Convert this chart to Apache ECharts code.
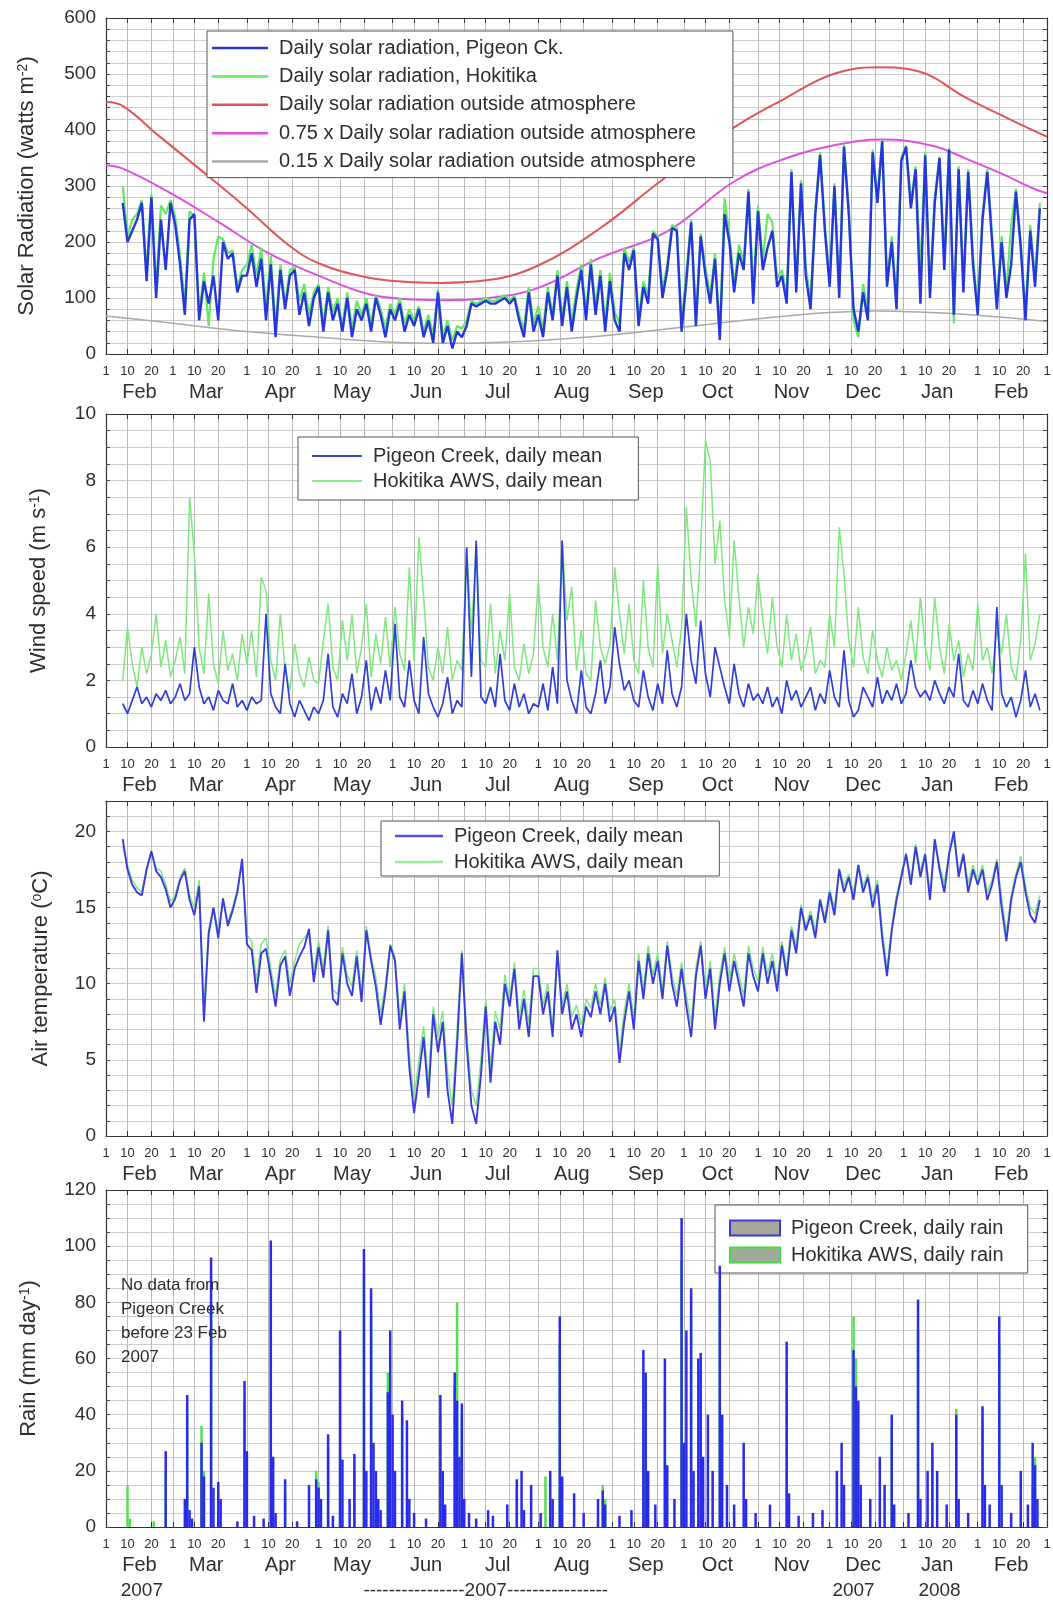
<!DOCTYPE html>
<html><head><meta charset="utf-8">
<script src="https://cdn.jsdelivr.net/npm/echarts@6/dist/echarts.min.js"></script>
<style>html,body{margin:0;padding:0;background:#fff}#c{width:1053px;height:1603px}</style>
</head><body><div id="c"></div>
<script>
const FONT = '"Liberation Sans", Arial, Helvetica, sans-serif';
const TXT = '#2e2e2e';

// ---- axis structure (day 0 = 1 Feb 2007, axis ends 1 Mar 2008) ----
const monthNames = ['Feb','Mar','Apr','May','Jun','Jul','Aug','Sep','Oct','Nov','Dec','Jan','Feb'];
const monthStartDays = [0,28,59,89,120,150,181,212,242,273,303,334,365];
const axisEndDay = 394;
const dayOfMonthOffsets = [0,9,19];
const dayOfMonthLabels = ['1','10','20'];
const yearLabelDays = [15,159,313,349];
const yearLabelTexts = ['2007','----------------2007----------------','2007','2008'];
// first sampled day in each month (values every 2nd day)
const sampleFirstDays = [7,29,59,89,121,151,181,213,243,273,303,335,365];

// ---- Solar radiation (W m-2), every 2nd day, one row per month ----
const solarPigeon = [
 [270,200,220,240,270,130,280,100,240,150,270],
 [230,160,70,240,250,60,130,90,140,60,200,170,180,110,140],
 [140,180,120,170,60,160,30,150,80,140,150,70,110,50,100],
 [120,40,110,60,90,40,100,30,80,60,90,40,100,70,30,80],
 [60,90,40,70,50,80,30,60,20,110,20,50,10,40,30],
 [50,90,85,90,95,90,90,95,100,90,100,60,30,110,40],
 [70,30,110,60,140,50,120,40,100,150,60,160,70,140,40,130],
 [60,40,180,150,185,50,120,90,215,205,100,150,225,220,40],
 [130,235,50,210,140,90,170,25,250,200,110,180,150,290,90],
 [255,150,190,220,120,140,90,325,110,305,140,80,250,355,220],
 [120,300,100,370,250,80,40,110,60,360,270,380,120,200,80,345],
 [370,260,330,90,355,100,270,350,150,365,70,330,110,325,160],
 [70,240,325,200,80,200,100,160,290,190,60,220,120,260]
];
const solarHokitika = [
 [300,210,240,250,275,150,285,120,265,250,275],
 [245,175,90,255,245,70,145,50,170,210,205,180,185,120,150],
 [160,195,140,190,80,175,50,160,90,150,155,95,125,70,110],
 [125,55,120,75,100,50,110,45,95,70,100,55,105,80,45,90],
 [70,100,55,80,60,85,40,70,35,115,30,60,25,50,45],
 [60,95,90,95,100,95,95,100,105,95,105,70,45,120,55],
 [85,45,120,70,150,65,130,55,115,160,75,170,85,150,55,145],
 [75,55,190,165,190,65,130,105,220,210,115,160,230,225,55],
 [145,240,65,215,155,105,180,40,278,215,125,195,165,295,110],
 [265,165,250,235,135,150,105,330,125,310,155,95,260,360,230],
 [135,305,115,375,260,60,30,125,75,365,280,382,130,210,95,350],
 [372,270,335,150,360,115,280,352,165,368,55,335,125,330,175],
 [85,250,330,215,95,210,115,230,295,200,75,230,135,270]
];
// Daily solar radiation outside atmosphere and its 0.75 / 0.15 fractions, [day, W m-2]
const extraterrestrial = [[0,450],[7,443],[22,390],[39,331],[59,260],[76,196],[89,162],[109,137],[125,129],[140,127],[160,132],[181,158],[207,225],[232,308],[262,402],[285,458],[304,499],[323,512],[340,505],[360,458],[378,420],[394,388]];
const extraterrestrial075 = [[0,337],[7,331],[25,292],[47,236],[68,180],[89,140],[109,108],[125,98],[140,96],[160,100],[181,118],[207,172],[235,219],[263,308],[285,350],[304,372],[325,383],[346,372],[360,349],[375,322],[388,296],[394,287]];
const extraterrestrial015 = [[0,68],[28,55],[59,40],[89,30],[120,21],[140,19],[160,20],[181,24],[212,34],[242,48],[273,63],[303,74],[323,77],[345,74],[365,69],[394,58]];

// ---- Wind speed (m s-1), every 2nd day ----
const windPigeon = [
 [1.3,1.0,1.4,1.8,1.3,1.5,1.2,1.6,1.4,1.7,1.3],
 [1.5,1.9,1.4,1.6,3.0,1.8,1.3,1.5,1.1,1.7,1.4,1.3,1.9,1.2,1.4],
 [1.1,1.5,1.3,1.4,4.0,1.6,1.2,1.0,2.5,1.3,0.9,1.4,1.1,0.8,1.2],
 [1.0,1.4,2.8,1.2,0.9,1.6,1.3,2.2,1.0,1.5,2.6,1.1,1.8,1.3,2.3,1.4],
 [3.7,1.5,1.2,2.6,1.4,1.0,3.3,1.6,1.2,0.9,1.3,2.1,1.0,1.4,1.2],
 [6.0,2.1,6.2,1.5,1.3,1.8,1.2,2.8,1.4,1.1,1.9,1.2,1.6,1.0,1.3],
 [1.2,1.9,1.1,2.4,1.3,6.2,2.0,1.4,1.0,2.3,1.2,1.0,1.6,2.6,1.3,1.8],
 [3.6,2.5,1.7,2.0,1.4,1.2,2.3,1.5,1.1,1.9,1.3,2.9,1.6,1.2,1.8],
 [4.0,2.6,1.9,3.8,2.2,1.5,3.0,2.4,1.8,1.3,2.5,1.6,1.2,1.9,1.4],
 [1.6,1.3,1.8,1.2,1.5,1.0,2.0,1.4,1.7,1.2,1.5,1.8,1.1,1.6,1.3],
 [2.3,1.5,1.2,2.9,1.4,0.9,1.1,1.8,1.5,1.2,2.1,1.3,1.7,1.4,1.9,1.3],
 [1.6,2.6,1.8,1.5,1.7,1.4,2.0,1.6,1.3,1.8,1.5,2.8,1.4,1.2,1.7],
 [1.3,1.9,1.4,1.1,4.2,1.6,1.2,1.5,0.9,1.4,2.3,1.2,1.6,1.1]
];
const windHokitika = [
 [2.0,3.6,2.5,1.8,3.0,2.2,2.8,4.0,2.4,3.2,2.1],
 [2.6,3.3,2.2,7.5,5.8,3.0,2.2,4.6,2.5,1.9,3.5,2.3,2.8,2.0,3.4],
 [2.5,3.5,2.1,5.1,4.7,2.6,2.0,4.0,2.3,1.7,3.1,2.2,1.8,2.7,2.0],
 [1.9,3.2,4.3,2.4,2.0,3.8,2.6,4.0,2.2,3.0,4.3,2.1,3.4,2.5,3.9,2.4],
 [4.2,2.8,2.3,5.4,2.6,6.3,4.5,2.4,2.0,3.0,2.2,3.6,2.0,2.6,2.3],
 [6.0,3.4,6.1,2.6,2.4,4.3,2.2,3.5,2.6,4.6,2.4,2.0,3.1,2.2,2.8],
 [5.0,3.0,2.4,4.0,2.6,6.2,3.8,4.8,2.3,3.5,2.2,2.0,4.4,3.0,2.5,3.1],
 [5.4,4.0,2.8,4.3,2.6,2.2,5.0,3.0,2.4,5.5,2.8,4.0,3.2,2.4,3.6],
 [7.2,5.0,3.6,6.0,9.2,8.6,5.5,6.8,4.4,3.3,6.2,4.5,3.0,4.2,3.4],
 [5.2,3.8,2.8,4.5,3.0,2.4,4.0,2.6,3.4,2.3,2.8,3.6,2.2,2.6,2.4],
 [4.0,3.0,6.6,5.2,3.2,2.4,4.2,2.7,2.2,3.5,2.6,2.1,3.0,2.3,2.6,2.0],
 [2.8,3.8,2.5,4.5,3.0,2.3,4.5,3.0,2.2,3.7,2.6,3.2,2.1,2.8,2.3],
 [4.3,2.6,3.0,2.2,3.5,2.8,4.0,2.4,2.0,3.2,5.8,2.6,3.1,4.0]
];

// ---- Air temperature (deg C), every 2nd day ----
const tempPigeon = [
 [19.5,17.5,16.5,16.0,15.8,17.5,18.7,17.4,17.0,16.2,15.0],
 [15.6,16.8,17.4,15.5,14.5,16.4,7.5,13.3,15.0,13.0,15.6,13.8,14.8,16.0,18.2],
 [12.6,12.2,9.4,12.0,12.3,10.5,8.5,11.2,11.8,9.2,11.0,11.8,12.4,13.6,10.1],
 [12.4,10.4,13.5,9.0,8.6,12.0,10.0,9.2,11.8,8.8,13.5,11.5,9.8,7.3,9.5,12.5],
 [11.5,7.0,9.5,4.5,1.5,4.0,6.5,2.5,8.0,5.5,7.5,3.0,0.8,6.0,12.0],
 [6.0,2.0,0.8,4.0,8.5,3.5,7.5,6.0,10.0,8.5,11.0,7.0,9.0,6.5,10.5],
 [10.5,8.0,9.5,6.5,12.2,8.0,9.5,7.0,8.0,6.5,8.5,7.8,9.5,8.0,10.0,7.5],
 [8.5,4.8,7.5,9.5,7.0,11.5,9.0,12.0,10.0,11.5,9.0,12.5,10.0,8.5,11.0],
 [8.5,6.5,10.5,12.5,9.0,11.0,7.0,10.0,12.0,9.5,11.5,10.0,8.5,12.0,10.5],
 [9.5,12.0,10.0,11.5,9.5,12.5,10.5,13.5,12.0,15.0,13.5,14.5,13.0,15.5,14.0],
 [16.0,14.5,17.5,16.0,17.0,15.5,17.8,16.0,17.0,15.0,16.5,13.0,10.5,13.5,15.5,17.0],
 [18.5,16.5,19.0,17.0,18.5,15.5,19.5,17.5,16.0,18.5,20.0,17.0,18.5,16.0,17.5],
 [16.5,17.5,15.5,16.5,18.0,15.0,12.8,15.5,17.0,18.0,16.0,14.5,14.0,15.5]
];
const tempHokitika = [
 [19.0,17.8,16.8,16.3,16.0,17.6,18.5,17.6,17.4,16.5,15.4],
 [15.8,17.0,17.6,15.8,15.0,16.8,8.5,13.6,15.0,13.5,15.4,14.0,15.0,16.2,17.8],
 [13.2,12.8,10.2,12.6,13.0,11.0,9.2,11.6,12.2,10.0,11.5,12.6,13.0,13.4,10.8],
 [12.8,11.0,13.8,9.6,9.3,12.4,10.6,9.8,12.2,9.4,13.8,11.8,10.4,8.0,10.0,12.6],
 [11.8,7.8,10.0,5.4,2.5,5.0,7.2,3.5,8.5,6.5,8.2,4.2,2.0,7.0,12.2],
 [6.8,3.0,2.0,5.0,9.0,4.5,8.2,7.0,10.6,9.0,11.4,7.8,9.6,7.4,11.0],
 [11.0,8.6,10.0,7.2,12.0,8.6,10.0,7.8,8.6,7.3,9.0,8.4,10.0,8.6,10.4,8.2],
 [9.0,5.6,8.2,10.0,7.8,12.0,9.6,12.5,10.6,12.0,9.6,12.8,10.6,9.2,11.4],
 [9.2,7.4,11.0,12.8,9.6,11.5,7.8,10.6,12.4,10.2,12.0,10.6,9.2,12.5,11.0],
 [10.2,12.4,10.6,12.0,10.2,12.8,11.0,13.8,12.5,15.2,13.8,14.8,13.5,15.6,14.4],
 [16.2,15.0,17.6,16.4,17.2,16.0,17.8,16.4,17.2,15.6,16.8,13.6,11.0,13.8,15.8,17.2],
 [18.6,16.8,19.2,17.4,18.6,16.0,19.4,17.8,16.6,18.6,19.6,17.4,18.6,16.6,17.8],
 [16.8,17.8,16.0,16.8,18.2,15.6,13.4,15.8,17.2,18.4,16.4,15.0,14.6,15.8]
];

// ---- Daily rain (mm/day), [day, mm] for rain days ----
const rainPigeon = [[25,27],[33,10],[34,47],[35,6],[36,3],[40,30],[41,18],[44,96],[45,14],[47,16],[48,10],[55,2],[58,52],[59,27],[62,4],[66,3],[69,102],[70,25],[71,5],[75,17],[80,2],[85,15],[88,17],[89,14],[90,10],[93,33],[95,4],[98,70],[99,24],[102,10],[104,26],[108,99],[109,20],[111,85],[112,30],[113,20],[114,10],[115,6],[118,48],[119,70],[120,40],[121,20],[124,45],[126,38],[127,10],[129,5],[134,3],[140,47],[141,20],[142,8],[146,55],[147,45],[148,25],[149,44],[150,10],[152,5],[155,3],[160,6],[162,4],[168,8],[172,17],[174,20],[175,6],[178,15],[182,5],[186,20],[187,10],[190,75],[191,18],[196,12],[200,5],[206,10],[208,13],[209,8],[215,4],[220,6],[225,63],[226,55],[227,20],[230,8],[234,60],[235,22],[238,10],[241,110],[242,30],[243,70],[245,85],[246,20],[248,60],[249,62],[250,25],[252,40],[254,20],[257,93],[258,40],[260,15],[263,8],[267,30],[268,10],[272,5],[278,8],[285,66],[286,12],[290,4],[296,5],[300,6],[306,20],[308,30],[309,15],[313,63],[314,50],[315,45],[316,15],[320,10],[324,25],[326,15],[329,40],[330,8],[336,5],[340,81],[341,10],[344,20],[346,30],[348,20],[352,8],[356,40],[357,10],[361,5],[367,43],[368,15],[370,8],[374,75],[375,15],[379,5],[383,20],[386,8],[388,30],[389,22],[390,10]];
const rainHokitika = [[9,15],[10,3],[20,2],[25,20],[34,40],[40,36],[41,20],[44,80],[47,12],[58,45],[69,85],[75,12],[88,20],[89,16],[93,28],[98,60],[104,20],[108,90],[111,75],[118,55],[124,40],[140,40],[146,50],[147,80],[149,40],[172,14],[184,18],[190,65],[208,15],[209,10],[225,55],[234,50],[241,95],[245,75],[249,55],[257,85],[285,55],[313,75],[314,60],[329,35],[340,70],[346,25],[356,42],[367,38],[374,65],[388,15],[389,25]];

// ---------- build ----------
function toPairs(monthRows){
  const out=[];
  monthRows.forEach((row,m)=>row.forEach((v,k)=>out.push([sampleFirstDays[m]+2*k, v])));
  return out;
}
const dayTicks=[], dayTickText={};
monthStartDays.forEach(s=>dayOfMonthOffsets.forEach((o,i)=>{dayTicks.push(s+o); dayTickText[s+o]=dayOfMonthLabels[i];}));
dayTicks.push(axisEndDay); dayTickText[axisEndDay]='1';
const monthMid = monthStartDays.map(s=>s+14);
const monthText = {}; monthMid.forEach((d,i)=>monthText[d]=monthNames[i]);
const yearText = {}; yearLabelDays.forEach((d,i)=>yearText[d]=yearLabelTexts[i]);

const grids = [
  {left:106,right:6,top:18,height:336},
  {left:106,right:6,top:414,height:333},
  {left:106,right:6,top:801,height:335},
  {left:106,right:6,top:1190,height:337}
].map(g=>Object.assign({show:false, outerBoundsMode:'none', containLabel:false}, g));

const xAxes=[];
for(let g=0;g<4;g++){
  xAxes.push({type:'value',gridIndex:g,min:0,max:axisEndDay,position:'bottom',
    axisLine:{show:true,onZero:false,lineStyle:{color:'#333',width:1.2}},
    axisTick:{show:true,inside:true,length:5,customValues:dayTicks,lineStyle:{color:'#333'}},
    axisLabel:{customValues:dayTicks,formatter:v=>dayTickText[v]??'',fontSize:13,margin:11,color:TXT,fontFamily:FONT,hideOverlap:false},
    splitLine:{show:true,lineStyle:{color:'#b8b8b8',width:1}}});
  xAxes.push({type:'value',gridIndex:g,min:0,max:axisEndDay,position:'bottom',
    axisLine:{show:false},axisTick:{show:false},splitLine:{show:false},
    axisLabel:{customValues:monthMid,formatter:v=>monthText[v]??'',fontSize:20,margin:28,color:TXT,fontFamily:FONT}});
  xAxes.push({type:'value',gridIndex:g,min:0,max:axisEndDay,position:'top',
    axisLine:{show:true,onZero:false,lineStyle:{color:'#333',width:1.2}},
    axisTick:{show:true,inside:true,length:5,customValues:dayTicks,lineStyle:{color:'#333'}},
    axisLabel:{show:false},splitLine:{show:false}});
}
xAxes.push({type:'value',gridIndex:3,min:0,max:axisEndDay,position:'bottom',
  axisLine:{show:false},axisTick:{show:false},splitLine:{show:false},
  axisLabel:{customValues:yearLabelDays,formatter:v=>yearText[v]??'',fontSize:19,margin:54,color:TXT,fontFamily:FONT}});

const yCfg = [
  {max:600,step:20,labels:[0,100,200,300,400,500,600],name:'Solar Radiation (watts m{s|-2})',gap:68},
  {max:10,step:0.5,labels:[0,2,4,6,8,10],name:'Wind speed (m s{s|-1})',gap:56},
  {max:22,step:1,labels:[0,5,10,15,20],name:'Air temperature ({s|o}C)',gap:54},
  {max:120,step:5,labels:[0,20,40,60,80,100,120],name:'Rain (mm day{s|-1})',gap:66}
];
const yAxes=[];
yCfg.forEach((c,g)=>{
  yAxes.push({type:'value',gridIndex:g,min:0,max:c.max,interval:c.step,position:'left',
    name:c.name,nameLocation:'middle',nameGap:c.gap,
    nameTextStyle:{fontSize:22,color:TXT,fontFamily:FONT,rich:{s:{fontSize:14,verticalAlign:'top',color:TXT,fontFamily:FONT}}},
    axisLine:{show:true,onZero:false,lineStyle:{color:'#333',width:1.2}},
    axisTick:{show:true,inside:true,length:4,lineStyle:{color:'#444'}},
    axisLabel:{customValues:c.labels,fontSize:19,margin:10,color:TXT,fontFamily:FONT},
    splitLine:{show:true,lineStyle:{color:'#cdcdcd',width:1}}});
  yAxes.push({type:'value',gridIndex:g,min:0,max:c.max,interval:c.step,position:'right',
    axisLine:{show:true,onZero:false,lineStyle:{color:'#333',width:1.2}},
    axisTick:{show:true,inside:true,length:4,lineStyle:{color:'#444'}},
    axisLabel:{show:false},splitLine:{show:false}});
});

function line(name,data,xi,yi,color,width,z,smooth){
  return {type:'line',name,data,xAxisIndex:xi,yAxisIndex:yi,showSymbol:false,symbol:'none',
    smooth:smooth||false,lineStyle:{color,width},itemStyle:{color},z,silent:true};
}
const BLUE='#2436dc', GREEN='#62e862';
const series = [
  line('0.15 x Daily solar radiation outside atmosphere',extraterrestrial015,0,0,'#a9a9a9',1.5,2,0.4),
  line('Daily solar radiation outside atmosphere',extraterrestrial,0,0,'#e05656',2,2,0.4),
  line('0.75 x Daily solar radiation outside atmosphere',extraterrestrial075,0,0,'#e050e0',2,2,0.4),
  line('Daily solar radiation, Hokitika',toPairs(solarHokitika),0,0,GREEN,2.2,3),
  line('Daily solar radiation, Pigeon Ck.',toPairs(solarPigeon),0,0,BLUE,2.4,4),
  line('Hokitika AWS, daily mean',toPairs(windHokitika),3,2,'#7ee87e',1.5,3),
  line('Pigeon Creek, daily mean',toPairs(windPigeon),3,2,'#2f3fd8',1.7,4),
  line('Hokitika AWS, daily mean',toPairs(tempHokitika),6,4,'#7ee87e',1.5,3),
  line('Pigeon Creek, daily mean',toPairs(tempPigeon),6,4,'#3a3ae0',1.9,4),
  {type:'bar',name:'Hokitika AWS, daily rain',data:rainHokitika,xAxisIndex:9,yAxisIndex:6,barWidth:2.5,barGap:'-100%',itemStyle:{color:'#52e052'},z:3,silent:true},
  {type:'bar',name:'Pigeon Creek, daily rain',data:rainPigeon,xAxisIndex:9,yAxisIndex:6,barWidth:2.5,barGap:'-100%',itemStyle:{color:'#2a2aec'},z:4,silent:true}
];

const legendBase = {orient:'vertical',backgroundColor:'#fff',borderColor:'#555',borderWidth:1,
  itemHeight:2.5,icon:'rect',selectedMode:false,textStyle:{fontSize:20,color:TXT,fontFamily:FONT,lineHeight:22,padding:[0,0,0,6]}};
const legends = [
  Object.assign({},legendBase,{left:207,top:31,itemWidth:56,itemGap:6.4,padding:[6,37,5,5],
    data:[{name:'Daily solar radiation, Pigeon Ck.',itemStyle:{color:BLUE}},
          {name:'Daily solar radiation, Hokitika',itemStyle:{color:GREEN}},
          {name:'Daily solar radiation outside atmosphere',itemStyle:{color:'#e05656'}},
          {name:'0.75 x Daily solar radiation outside atmosphere',itemStyle:{color:'#e050e0'}},
          {name:'0.15 x Daily solar radiation outside atmosphere',itemStyle:{color:'#a9a9a9'}}]}),
  Object.assign({},legendBase,{left:298,top:437,itemWidth:50,itemHeight:2,itemGap:3,padding:[8,36,8,14],
    data:[{name:'Pigeon Creek, daily mean',itemStyle:{color:'#3a4ad0'}},{name:'Hokitika AWS, daily mean',itemStyle:{color:'#8ee88e'}}]}),
  Object.assign({},legendBase,{left:381,top:821,itemWidth:48,itemHeight:2.5,itemGap:4,padding:[4,36,3,14],
    data:[{name:'Pigeon Creek, daily mean',itemStyle:{color:'#5050e8'}},{name:'Hokitika AWS, daily mean',itemStyle:{color:'#9ee89e'}}]}),
  Object.assign({},legendBase,{left:715,top:1205,itemWidth:50,itemHeight:15,itemGap:5,padding:[12,24,7,14],
    data:[{name:'Pigeon Creek, daily rain',icon:'rect',itemStyle:{color:'#a9a79c',borderColor:'#3a3ad0',borderWidth:2}},
          {name:'Hokitika AWS, daily rain',icon:'rect',itemStyle:{color:'#a0aa9c',borderColor:'#44dd44',borderWidth:2}}]})
];

const chart = echarts.init(document.getElementById('c'),null,{renderer:'canvas'});
chart.setOption({
  animation:false,
  backgroundColor:'#fff',
  grid:grids, xAxis:xAxes, yAxis:yAxes, series, legend:legends,
  graphic:[{type:'text',left:121,top:1273,z:10,silent:true,
    style:{text:'No data from\nPigeon Creek\nbefore 23 Feb\n2007',fontSize:17,fontFamily:FONT,lineHeight:24,fill:TXT}}]
});
</script></body></html>
